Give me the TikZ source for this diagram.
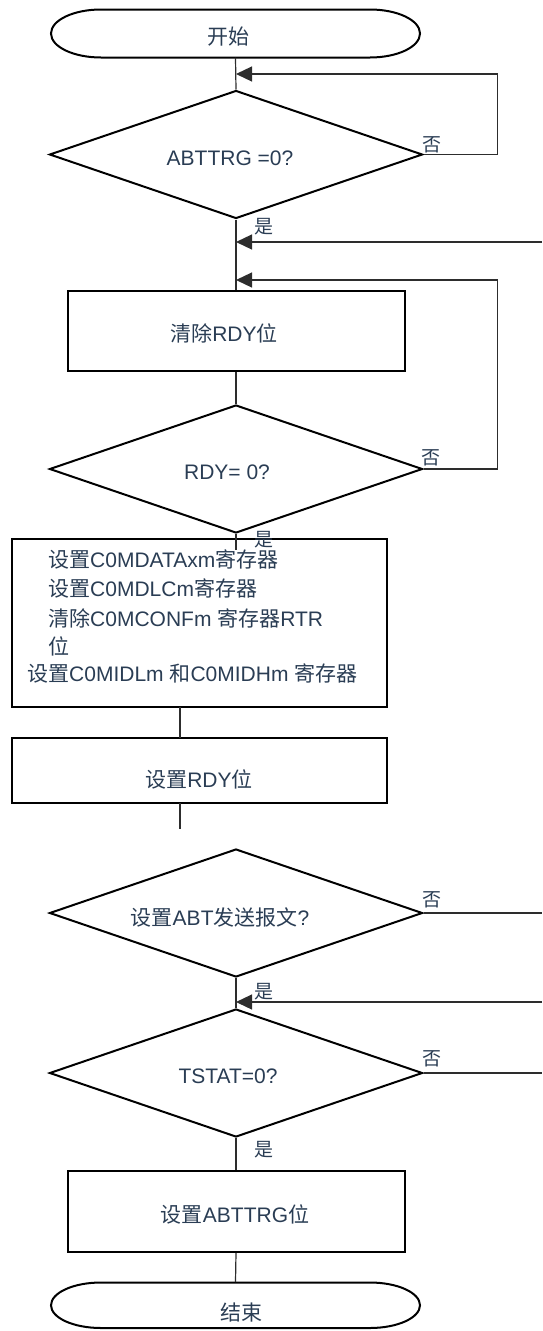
\documentclass[tikz,border=0pt]{standalone}
\usepackage{fontspec}
\setmainfont{Liberation Sans}
\newfontfamily\zhfont{Noto Sans CJK SC}
\newcommand{\Z}[1]{{\zhfont #1}}
\usetikzlibrary{shapes.geometric,arrows.meta}
\definecolor{txt}{RGB}{42,61,84}
\definecolor{ln}{RGB}{45,45,45}
\begin{document}
\begin{tikzpicture}[x=1pt,y=-1pt,
  shapeline/.style={draw=black,line width=2pt},
  dec/.style={shapeline,diamond,minimum width=373pt,minimum height=128pt,inner sep=0pt},
  proc/.style={shapeline,rectangle,inner sep=0pt},
  ghost/.style={rectangle,inner sep=0pt},
  lbl/.style={text=txt,font=\fontsize{21pt}{25pt}\selectfont,inner sep=0pt},
  yn/.style={text=txt,font=\fontsize{19pt}{22pt}\selectfont,inner sep=0pt},
  conn/.style={draw=ln,line width=1.2pt},
  arr/.style={conn,-{Triangle[length=16pt,width=15pt]}}
]
\useasboundingbox (0,0) rectangle (542,1331);

% ---- terminator: start
\node[ghost,minimum width=369pt,minimum height=48pt] (t1) at (235.5,33.5) {};
\draw[shapeline] (101,9.5) -- (370,9.5)
  .. controls (397.6,9.5) and (420,20.2) .. (420,33.5)
  .. controls (420,46.8) and (397.6,57.5) .. (370,57.5)
  -- (101,57.5)
  .. controls (73.4,57.5) and (51,46.8) .. (51,33.5)
  .. controls (51,20.2) and (73.4,9.5) .. cycle;
\node[lbl] (t1txt) at (228,37) {\Z{开始}};

% ---- decision 1
\node[dec] (d1) at (236,154.5) {};
\node[lbl] (d1txt) at (230,158) {ABTTRG =0?};

% ---- process: clear RDY
\node[proc,minimum width=337pt,minimum height=80pt] (b1) at (236,331) {};
\node[lbl] (b1txt) at (224,333) {\Z{清除}RDY\Z{位}};

% ---- decision 2
\node[dec] (d2) at (236,469) {};
\node[lbl] (d2txt) at (227,472) {RDY= 0?};

% ---- big process box
\node[proc,minimum width=375pt,minimum height=168pt] (big) at (199,623) {};
\node[lbl,anchor=west] (l1) at (48,559) {\Z{设置}C0MDATAxm\Z{寄存器}};
\node[lbl,anchor=west] (l2) at (48,588) {\Z{设置}C0MDLCm\Z{寄存器}};
\node[lbl,anchor=west] (l3) at (48,618) {\Z{清除}C0MCONFm \Z{寄存器}RTR};
\node[lbl,anchor=west] (l4) at (48,646) {\Z{位}};
\node[lbl,anchor=west] (l5) at (27,673) {\Z{设置}C0MIDLm \Z{和}C0MIDHm \Z{寄存器}};

% ---- process: set RDY
\node[proc,minimum width=375pt,minimum height=65pt] (b2) at (199,770.5) {};
\node[lbl] (b2txt) at (199,779) {\Z{设置}RDY\Z{位}};

% ---- decision 3
\node[dec] (d3) at (236,913) {};
\node[lbl] (d3txt) at (220,917) {\Z{设置}ABT\Z{发送报文}?};

% ---- decision 4
\node[dec] (d4) at (236,1073) {};
\node[lbl] (d4txt) at (228,1076) {TSTAT=0?};

% ---- process: set ABTTRG
\node[proc,minimum width=337pt,minimum height=81pt] (b3) at (236,1211.5) {};
\node[lbl] (b3txt) at (235,1214) {\Z{设置}ABTTRG\Z{位}};

% ---- terminator: end
\node[ghost,minimum width=369pt,minimum height=46pt] (t2) at (235.5,1305.25) {};
\draw[shapeline] (101,1282.5) -- (370,1282.5)
  .. controls (397.6,1282.5) and (420,1292.7) .. (420,1305.25)
  .. controls (420,1317.8) and (397.6,1328) .. (370,1328)
  -- (101,1328)
  .. controls (73.4,1328) and (51,1317.8) .. (51,1305.25)
  .. controls (51,1292.7) and (73.4,1282.5) .. cycle;
\node[lbl] (t2txt) at (241,1312) {\Z{结束}};

% ---- junction / corner coordinates
\coordinate (m1) at (236,74);
\coordinate (r1) at (497.8,74);
\coordinate (m2) at (236,242);
\coordinate (e2) at (542,242);
\coordinate (m3) at (236,280);
\coordinate (r3) at (497.8,280);
\coordinate (bin) at (236,550);
\coordinate (c1t) at (180,707);
\coordinate (c1b) at (180,738);
\coordinate (c2t) at (180,803);
\coordinate (c2b) at (180,829);
\coordinate (e3) at (542,913);
\coordinate (m4) at (236,1002);
\coordinate (e4) at (542,1002);
\coordinate (e5) at (542,1073);

% ---- connectors
\draw[conn] (t1.south) -- (d1.north);
\draw[arr] (d1.east) -| (r1) -- (m1);
\draw[conn] (d1.south) -- (b1.north);
\draw[arr] (e2) -- (m2);
\draw[arr] (d2.east) -| (r3) -- (m3);
\draw[conn] (b1.south) -- (d2.north);
\draw[conn] (d2.south) -- (bin);
\draw[conn] (c1t) -- (c1b);
\draw[conn] (c2t) -- (c2b);
\draw[conn] (d3.east) -- (e3);
\draw[conn] (d3.south) -- (d4.north);
\draw[arr] (e4) -- (m4);
\draw[conn] (d4.east) -- (e5);
\draw[conn] (d4.south) -- (b3.north);
\draw[conn] (b3.south) -- (t2.north);

% ---- yes / no labels
\node[yn] (n1) at (432,145) {\Z{否}};
\node[yn] (y1) at (264,227) {\Z{是}};
\node[yn] (n2) at (431,458) {\Z{否}};
\node[yn] (y2) at (264,540) {\Z{是}};
\node[yn] (n3) at (432,900) {\Z{否}};
\node[yn] (y3) at (264,992) {\Z{是}};
\node[yn] (n4) at (432,1059) {\Z{否}};
\node[yn] (y4) at (264,1150) {\Z{是}};
\end{tikzpicture}
\end{document}
